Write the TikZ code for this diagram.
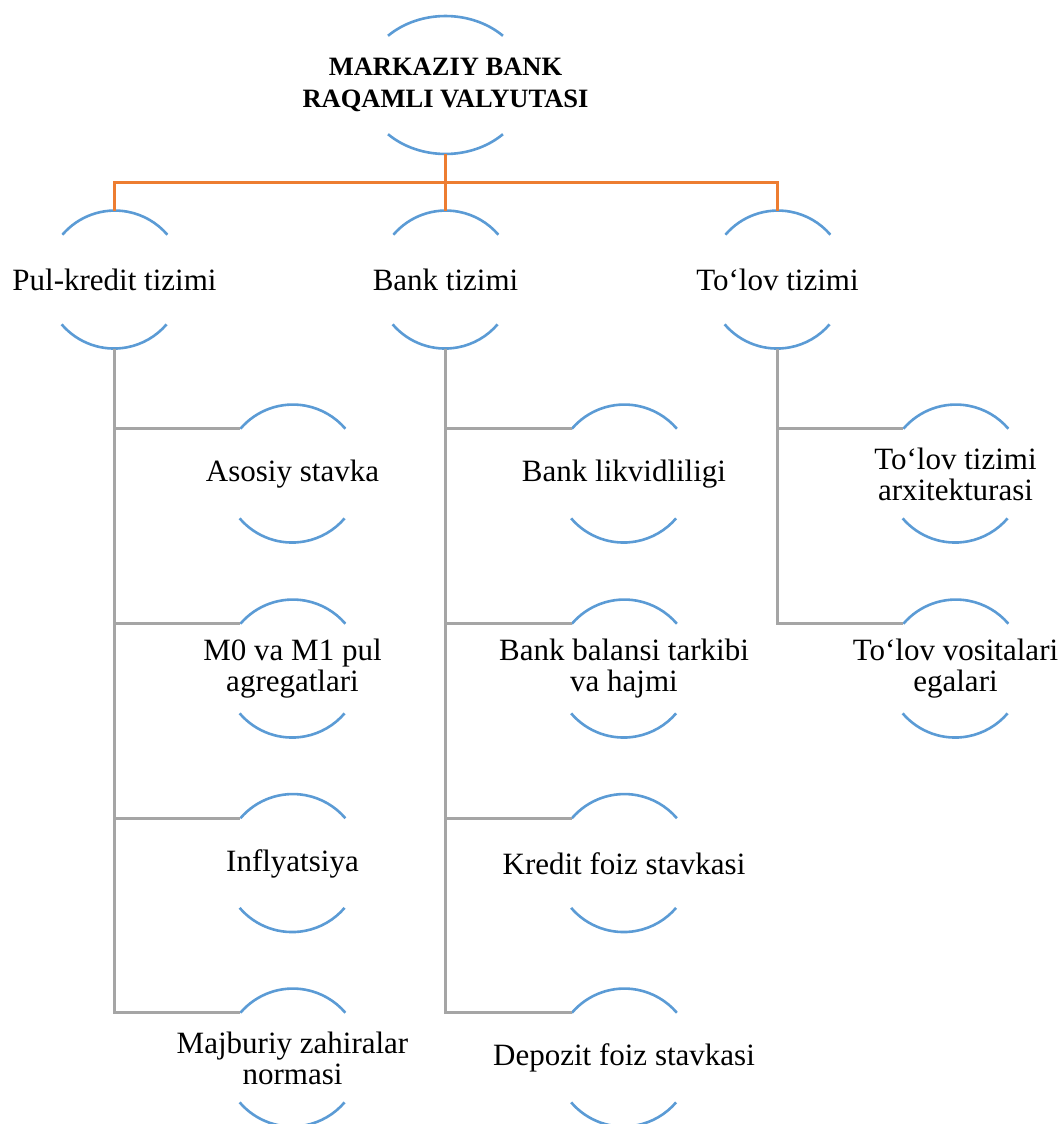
\documentclass[tikz,border=0pt]{standalone}
\usepackage{fontspec}
\setmainfont{Liberation Serif}
\usetikzlibrary{shapes.geometric,calc}
\definecolor{arcblue}{HTML}{5B9BD5}
\definecolor{linkorange}{HTML}{ED7D31}
\definecolor{linkgray}{HTML}{A5A5A5}
\tikzset{
  ring/.style={circle, minimum size=138pt, inner sep=0pt, outer sep=0pt},
  oval/.style={ellipse, minimum width=164pt, minimum height=138pt, inner sep=0pt, outer sep=0pt},
  lbl/.style={align=center, inner sep=0pt, font=\fontsize{31}{31}\selectfont},
  titlelbl/.style={align=center, inner sep=0pt, font=\bfseries\fontsize{26.5}{32}\selectfont},
  arcline/.style={draw=arcblue, line width=2.6pt},
  orgline/.style={draw=linkorange, line width=3pt},
  grayline/.style={draw=linkgray, line width=3pt},
}
\newcommand\ringarcs[1]{%
  \draw[arcline] (#1.139.5) arc[start angle=139.5, end angle=40.5, radius=69pt];
  \draw[arcline] (#1.220.5) arc[start angle=220.5, end angle=319.5, radius=69pt];}
\newcommand\ringnode[3]{% name, position, text
  \node[ring] (#1) at (#2) {};
  \node[lbl] (#1-t) at (#1.center) {#3};
  \ringarcs{#1}}
\begin{document}
\begin{tikzpicture}[x=1pt,y=1pt]
\useasboundingbox (0,0) rectangle (1059,-1124);
% top node
\node[oval] (top) at (445.5,-85) {};
\node[titlelbl] (top-t) at (top.center) {MARKAZIY BANK\\RAQAMLI VALYUTASI};
\draw[arcline] ([shift={(-57.5pt,49.2pt)}]top.center) arc[start angle=134.5, end angle=45.5, x radius=82pt, y radius=69pt];
\draw[arcline] ([shift={(-57.5pt,-49.2pt)}]top.center) arc[start angle=225.5, end angle=314.5, x radius=82pt, y radius=69pt];
% level 1
\ringnode{pk}{114.5,-280}{Pul-kredit tizimi}
\ringnode{bank}{445.5,-280}{Bank tizimi}
\ringnode{tl}{777.5,-280}{To‘lov tizimi}
% level 2: Pul-kredit
\ringnode{pk1}{292.5,-474}{Asosiy stavka}
\ringnode{pk2}{292.5,-669}{M0 va M1 pul\\agregatlari}
\ringnode{pk3}{292.5,-863.5}{Inflyatsiya}
\ringnode{pk4}{292.5,-1058}{Majburiy zahiralar\\normasi}
% level 2: Bank
\ringnode{bk1}{624,-474}{Bank likvidliligi}
\ringnode{bk2}{624,-669}{Bank balansi tarkibi\\va hajmi}
\ringnode{bk3}{624,-863.5}{Kredit foiz stavkasi}
\ringnode{bk4}{624,-1058}{Depozit foiz stavkasi}
% level 2: To'lov
\ringnode{tl1}{955.5,-474}{To‘lov tizimi\\arxitekturasi}
\ringnode{tl2}{955.5,-669}{To‘lov vositalari\\egalari}
% orange connectors
\coordinate (bus) at (445.5,-182);
\draw[orgline] (pk.north) |- (bus) -| (tl.north);
\draw[orgline] (top.south) -- (bank.north);
% gray connectors
\foreach \c in {pk1,pk2,pk3,pk4} \draw[grayline] (pk.south) |- (\c.139.5);
\foreach \c in {bk1,bk2,bk3,bk4} \draw[grayline] (bank.south) |- (\c.139.5);
\foreach \c in {tl1,tl2} \draw[grayline] (tl.south) |- (\c.139.5);
\end{tikzpicture}
\end{document}
